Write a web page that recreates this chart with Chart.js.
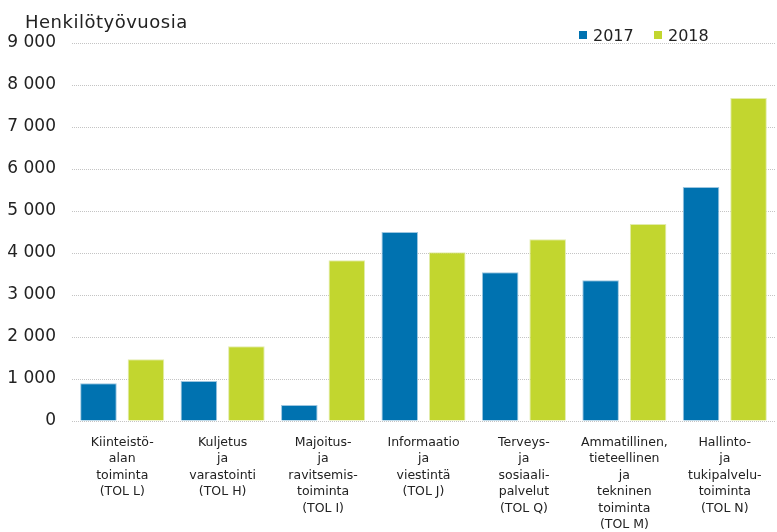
<!DOCTYPE html>
<html>
<head>
<meta charset="utf-8">
<script src="https://cdn.jsdelivr.net/npm/chart.js@4.4.0/dist/chart.umd.min.js"></script>
<style>
    html, body { margin: 0; padding: 0; background: #fff; }
    #wrap { width: 777px; height: 532px; }
</style>
</head>
<body>
<div id="wrap"><canvas id="tyovuodet" width="777" height="532"></canvas></div>
<script>
// toimialat (x-akselin nimet riveittäin)
const toimialat = [
    ['Kiinteistö-', 'alan', 'toiminta', '(TOL L)'],
    ['Kuljetus', 'ja', 'varastointi', '(TOL H)'],
    ['Majoitus-', 'ja', 'ravitsemis-', 'toiminta', '(TOL I)'],
    ['Informaatio', 'ja', 'viestintä', '(TOL J)'],
    ['Terveys-', 'ja', 'sosiaali-', 'palvelut', '(TOL Q)'],
    ['Ammatillinen,', 'tieteellinen', 'ja', 'tekninen', 'toiminta', '(TOL M)'],
    ['Hallinto-', 'ja', 'tukipalvelu-', 'toiminta', '(TOL N)']
];

const vuodet = ['2017', '2018'];
const arvot2017 = [900, 950, 380, 4500, 3540, 3350, 5570];
const arvot2018 = [1470, 1780, 3830, 4020, 4330, 4690, 7690];
const yTicks = [0, 1000, 2000, 3000, 4000, 5000, 6000, 7000, 8000, 9000];

const sininen = '#0072b0';
const vihrea = '#c2d62f';
const fontti = '"DejaVu Sans", sans-serif';

function muotoile(v) {
    return String(v).replace(/\B(?=(\d{3})+(?!\d))/g, ' ');
}

// otsikko ja selite piirretään itse
const omaPiirto = {
    id: 'omaPiirto',
    afterDraw(chart) {
        const ctx = chart.ctx;
        ctx.save();
        ctx.fillStyle = '#222';
        ctx.font = '18px ' + fontti;
        ctx.textBaseline = 'alphabetic';
        ctx.textAlign = 'left';
        ctx.letterSpacing = '0.5px';
        ctx.fillText('Henkilötyövuosia', 25, 28);
        ctx.letterSpacing = '0px';

        ctx.font = '16px ' + fontti;
        const varit = [sininen, vihrea];
        const xs = [579, 654];
        for (let i = 0; i < vuodet.length; i++) {
            ctx.fillStyle = varit[i];
            ctx.fillRect(xs[i], 31, 8, 8);
            ctx.fillStyle = '#222';
            ctx.fillText(vuodet[i], xs[i] + 14, 41);
        }
        ctx.restore();
    }
};

const el = document.getElementById('tyovuodet');

new Chart(el, {
    type: 'bar',
    data: {
        labels: toimialat,
        datasets: [{
            label: vuodet[0],
            data: arvot2017,
            backgroundColor: sininen,
            borderColor: '#9cc6e0',
            borderWidth: 1,
            categoryPercentage: 0.946,
            barPercentage: 0.77
        }, {
            label: vuodet[1],
            data: arvot2018,
            backgroundColor: vihrea,
            borderColor: '#e2ecac',
            borderWidth: 1,
            categoryPercentage: 0.946,
            barPercentage: 0.77
        }]
    },
    options: {
        responsive: false,
        animation: false,
        layout: {
            padding: { top: 43, right: 2, left: 0, bottom: 0 }
        },
        plugins: {
            legend: { display: false },
            title: { display: false },
            tooltip: { enabled: false }
        },
        scales: {
            x: {
                grid: { display: false },
                border: { display: false },
                afterFit(axis) {
                    axis.height = 111;
                },
                ticks: {
                    color: '#222',
                    maxRotation: 0,
                    autoSkip: false,
                    padding: 5,
                    font: { family: fontti, size: 12.5, lineHeight: 1.32 }
                }
            },
            y: {
                min: 0,
                max: 9000,
                afterBuildTicks(axis) {
                    axis.ticks = yTicks.map(function (v) { return { value: v }; });
                },
                afterFit(axis) {
                    axis.width = 72;
                },
                grid: {
                    color: '#c4c4c4',
                    lineWidth: 1,
                    drawTicks: false
                },
                border: { display: false, dash: [1, 1] },
                ticks: {
                    color: '#222',
                    padding: 16,
                    font: { family: fontti, size: 17 },
                    callback: function (v) { return muotoile(v); }
                }
            }
        }
    },
    plugins: [omaPiirto]
});
</script>
</body>
</html>
